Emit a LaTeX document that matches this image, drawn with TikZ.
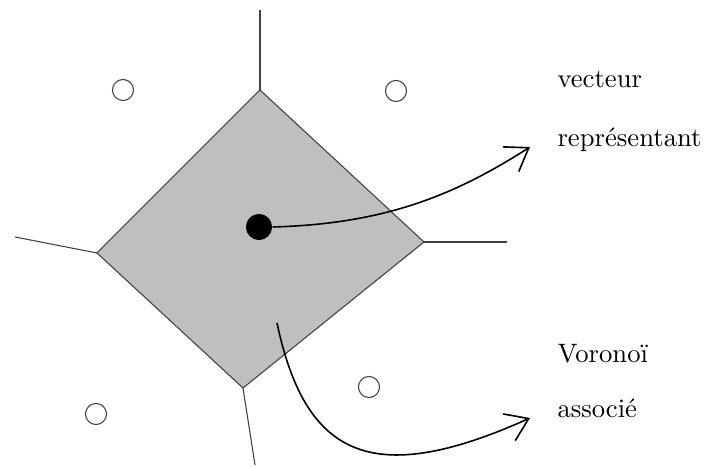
\documentclass[tikz,border=0pt]{standalone}
\usepackage{fontspec}
\usetikzlibrary{arrows.meta}

\begin{document}
\begin{tikzpicture}[x=0.375pt, y=-0.375pt,
  edge/.style={draw=black!75, line width=0.4pt},
  site/.style={draw=black!75, circle, inner sep=0pt, minimum size=7.9pt, line width=0.4pt},
  label/.style={anchor=base west, inner sep=0pt},
  curve/.style={->, line width=0.6pt, >={Straight Barb[length=8pt, width=11pt]}}]
\useasboundingbox (0,0) rectangle (705,468);
% Cell corners
\coordinate (top) at (260,90);
\coordinate (right) at (424,242);
\coordinate (bottom) at (243,388);
\coordinate (left) at (97,253);
% Far ends of the boundaries
\coordinate (topend) at (260,10);
\coordinate (rightend) at (507,242);
\coordinate (bottomend) at (255,465);
\coordinate (leftend) at (15,237);

% Voronoi cell
\filldraw[fill=black!25, edge] (top) -- (right) -- (bottom) -- (left) -- cycle;
\draw[edge] (top) -- (topend);
\draw[edge] (right) -- (rightend);
\draw[edge] (bottom) -- (bottomend);
\draw[edge] (left) -- (leftend);

% Neighbouring sites
\node[site] (siteA) at (123,90) {};
\node[site] (siteB) at (396,91) {};
\node[site] (siteC) at (369,387) {};
\node[site] (siteD) at (96,414) {};

% Representative vector
\node[circle, fill=black, inner sep=0pt, minimum size=9.8pt] (rep) at (259,227) {};

% Labels
\node[label] (vec) at (557,88) {vecteur};
\node[label] (repr) at (557,147) {représentant};
\node[label] (vor) at (557,363) {Voronoï};
\node[label] (assoc) at (557,418) {associé};

\coordinate (cellpt) at (277,323);
\coordinate (reptip) at (530,147);
\coordinate (celltip) at (530,418);

% Arrows
\draw[curve] (rep.east) .. controls (385,224) and (455,195) .. (reptip);
\draw[curve] (cellpt) .. controls (305,455) and (370,490) .. (celltip);
\end{tikzpicture}
\end{document}
